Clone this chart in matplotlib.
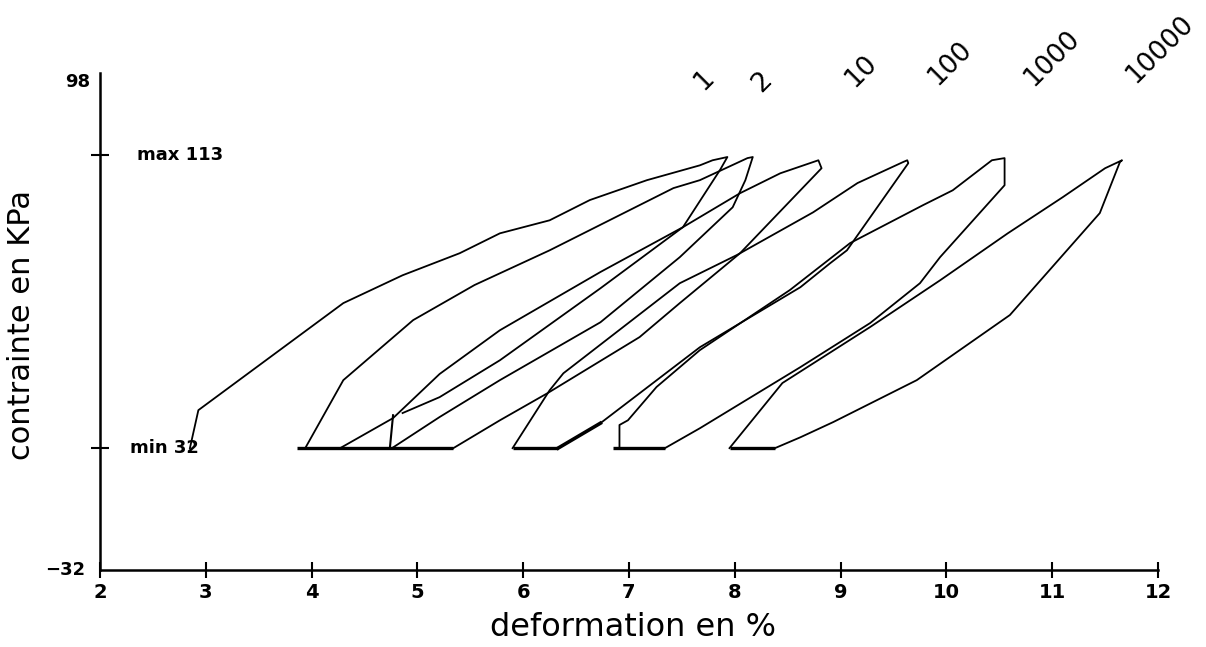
import matplotlib.pyplot as plt

# nombre de cycles (etiquettes en haut)
cycles = ['1', '2', '10', '100', '1000', '10000']

# deformation (%) / contrainte (kPa) : chargement puis dechargement
def_1 = [2.85, 2.93, 4.30, 4.86, 5.40, 5.78, 6.25, 6.63, 7.17, 7.67, 7.79, 7.93,
         7.86, 7.51, 6.73, 5.78, 5.21, 4.86]
con_1 = [32.0, 42.5, 72.1, 79.8, 85.9, 91.4, 95.0, 100.6, 106.1, 110.2, 111.6, 112.5,
         108.9, 93.1, 76.2, 56.3, 46.1, 41.7]

def_2 = [3.94, 4.30, 4.96, 5.54, 6.25, 7.42, 7.67, 8.12, 8.17,
         8.10, 7.98, 7.48, 6.73, 5.78, 5.21, 4.76]
con_2 = [32.0, 50.8, 67.4, 77.1, 86.7, 103.9, 106.1, 112.2, 112.5,
         106.1, 98.6, 84.8, 66.8, 50.8, 40.6, 32.0]

def_10 = [4.27, 4.77, 5.21, 5.78, 6.73, 7.51, 8.05, 8.43, 8.74, 8.79,
          8.82, 8.05, 7.48, 7.10, 6.23, 5.78, 5.34]
con_10 = [32.0, 40.3, 52.5, 64.6, 80.7, 93.1, 102.5, 108.0, 111.1, 111.6,
          109.4, 85.9, 72.1, 62.7, 47.2, 39.7, 32.0]

def_100 = [5.90, 6.25, 6.38, 7.48, 8.02, 8.74, 9.16, 9.59, 9.63,
           9.64, 9.06, 8.90, 8.62, 7.67, 6.73, 6.33]
con_100 = [32.0, 48.0, 52.7, 77.6, 85.4, 97.2, 105.3, 111.1, 111.6,
           110.8, 86.7, 83.1, 76.5, 59.9, 38.9, 32.0]

def_1000 = [6.91, 6.91, 6.99, 7.26, 7.67, 8.52, 9.09, 9.78, 10.06, 10.43, 10.55,
            10.55, 9.94, 9.75, 9.28, 8.62, 7.67, 7.34]
con_1000 = [32.0, 38.4, 39.7, 48.9, 59.1, 75.7, 88.7, 99.2, 103.3, 111.6, 112.2,
            104.7, 84.8, 77.6, 66.6, 54.4, 37.5, 32.0]

def_10000 = [7.95, 8.45, 9.28, 9.94, 10.58, 11.10, 11.50, 11.66,
             11.64, 11.45, 10.60, 9.72, 8.93, 8.62, 8.38]
con_10000 = [32.0, 50.0, 65.5, 78.4, 91.4, 101.4, 109.4, 111.6,
             111.1, 97.0, 68.8, 50.8, 39.2, 35.0, 32.0]

# paliers a contrainte min (debut, fin)
paliers = [(3.86, 5.34), (5.90, 6.33), (6.85, 7.34), (7.95, 8.38)]

# petit retour vertical vers 4.75 %
recul_def = [4.74, 4.77]
recul_con = [32.0, 41.1]

c_min = 32
c_max = 113

boucles = [(def_1, con_1), (def_2, con_2), (def_10, con_10),
           (def_100, con_100), (def_1000, con_1000), (def_10000, con_10000)]

fig = plt.figure(figsize=(12.06, 6.47), dpi=100)
ax = fig.add_axes([0.0829, 0.119, 0.8773, 0.768])

for d, c in boucles:
    ax.plot(d, c, color='black', lw=1.3)
for a, b in paliers:
    ax.plot([a, b], [c_min, c_min], color='black', lw=2.4, solid_capstyle='butt')
ax.plot(recul_def, recul_con, color='black', lw=1.5)
# trait plus epais en fin de dechargement du cycle 100
ax.plot(def_100[-2:], con_100[-2:], color='black', lw=2.6)

ax.set_xlim(2, 12)
ax.set_ylim(-1.7, 135.7)

for s in ['top', 'right']:
    ax.spines[s].set_visible(False)
for s in ['left', 'bottom']:
    ax.spines[s].set_linewidth(1.8)

ax.set_xticks(range(2, 13))
ax.set_xticklabels([str(v) for v in range(2, 13)], fontsize=14, fontweight='bold')
ax.tick_params(axis='x', direction='inout', length=11, width=1.5, pad=4)

ax.set_yticks([c_min, c_max])
ax.set_yticklabels(['', ''])
ax.tick_params(axis='y', direction='inout', length=13, width=1.5)

ax.text(1.905, 133.2, '98', ha='right', va='center', fontsize=13, fontweight='bold', clip_on=False)
ax.text(1.86, -1.7, '\u221232', ha='right', va='center', fontsize=13, fontweight='bold', clip_on=False)
ax.text(2.35, c_max, 'max 113', ha='left', va='center', fontsize=13, fontweight='bold')
ax.text(2.28, c_min, 'min 32', ha='left', va='center', fontsize=13, fontweight='bold')

# etiquettes des cycles
pos_x = [7.71, 8.26, 9.19, 10.03, 11.00, 12.02]
pos_y = [133.7, 133.2, 136.2, 138.4, 139.8, 142.3]
for lab, px, py in zip(cycles, pos_x, pos_y):
    ax.text(px, py, lab, rotation=45, ha='center', va='center', fontsize=19, clip_on=False)

ax.set_xlabel('deformation en %', fontsize=23)
ax.xaxis.set_label_coords(0.504, -0.085)
ax.set_ylabel('contrainte en KPa', fontsize=22)
ax.yaxis.set_label_coords(-0.06, 0.493)

plt.savefig('out.png', dpi=100)
